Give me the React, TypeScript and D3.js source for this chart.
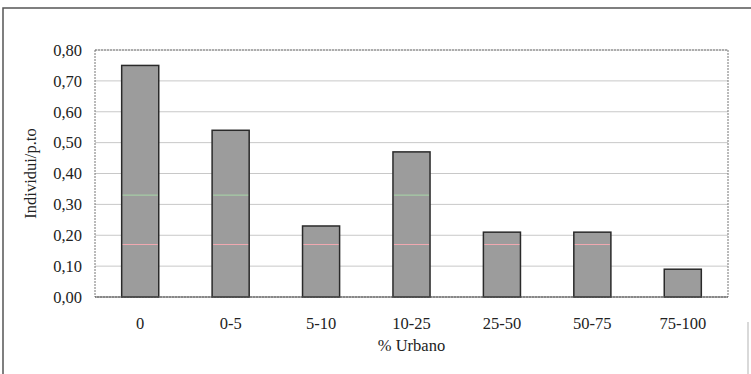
import React from "react";
import * as d3 from "d3";

const categories = ["0", "0-5", "5-10", "10-25", "25-50", "50-75", "75-100"];
const values = [0.75, 0.54, 0.23, 0.47, 0.21, 0.21, 0.09];
const yTicks = [0, 0.1, 0.2, 0.3, 0.4, 0.5, 0.6, 0.7, 0.8];
const refLevels = [0.33, 0.17];
const refColors = ["#a8d8a8", "#f0a8b0"];

export default function App() {
  const W = 751, H = 374;
  const m = { left: 95, right: 23, top: 50, bottom: 77 };
  const x = d3.scaleBand<string>().domain(categories).range([m.left, W - m.right]).paddingInner(0.59).paddingOuter(0.295);
  const y = d3.scaleLinear().domain([0, 0.8]).range([H - m.bottom, m.top]);
  const fmt = (v: number) => v.toFixed(2).replace(".", ",");
  const ts: React.CSSProperties = { fontFamily: 'Times, "Times New Roman", Tinos, "Noto Serif", FreeSerif, "Nimbus Roman", "Liberation Serif", serif', fontSize: 16.5 };
  const bw = x.bandwidth();
  return (
    <svg width={W} height={H} style={{ position: "absolute", left: 0, top: 0, background: "#fff" }}>
      <rect x={3} y={8} width={W + 10} height={H + 10} fill="#fff" stroke="#555" strokeWidth={1.5} />
      <line x1={748} x2={748} y1={322} y2={374} stroke="#ccc" strokeWidth={1.5} />
      {yTicks.slice(1).map((t) => (
        <line key={t} x1={m.left} x2={W - m.right} y1={y(t)} y2={y(t)} stroke="#c8c8c8" strokeWidth={1} />
      ))}
      <rect x={m.left} y={m.top} width={W - m.left - m.right} height={H - m.top - m.bottom} fill="none" stroke="#777" strokeWidth={1} strokeDasharray="2,1" />
      {categories.map((c, i) => (
        <g key={c}>
          <rect x={x(c)} y={y(values[i])} width={bw} height={y(0) - y(values[i])} fill="#9c9c9c" stroke="#2a2a2a" strokeWidth={1.5} />
          {refLevels.map((lv, j) =>
            values[i] > lv ? (
              <line key={j} x1={(x(c) as number) + 1} x2={(x(c) as number) + bw - 1} y1={y(lv)} y2={y(lv)} stroke={refColors[j]} strokeWidth={1} />
            ) : null
          )}
        </g>
      ))}
      <line x1={m.left} x2={W - m.right} y1={y(0)} y2={y(0)} stroke="#555" strokeWidth={1} />
      {yTicks.map((t) => (
        <text key={t} x={82} y={y(t)} dy="0.35em" textAnchor="end" style={ts} fill="#222">{fmt(t)}</text>
      ))}
      {categories.map((c) => (
        <text key={c} x={(x(c) as number) + bw / 2} y={329} textAnchor="middle" style={ts} fill="#222">{c}</text>
      ))}
      <text x={(m.left + W - m.right) / 2} y={351} textAnchor="middle" style={ts} fill="#222">% Urbano</text>
      <text transform={`translate(36, ${(m.top + H - m.bottom) / 2}) rotate(-90)`} textAnchor="middle" style={ts} fill="#222">Individui/p.to</text>
    </svg>
  );
}
